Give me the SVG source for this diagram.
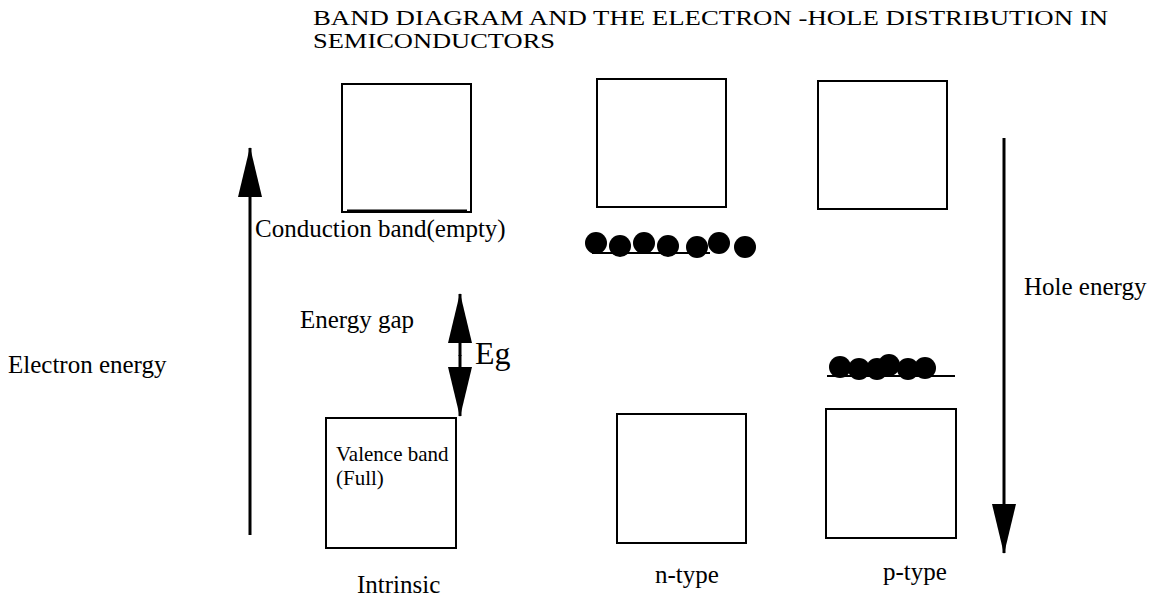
<svg xmlns="http://www.w3.org/2000/svg" width="1151" height="597" viewBox="0 0 1151 597">
<defs>
<style>
.t{font-family:"Liberation Serif","Times New Roman",serif;fill:#000}
.box{fill:#fff;stroke:#000;stroke-width:2}
.ln{stroke:#000;stroke-width:3;fill:none}
.dot{fill:#000}
</style>
<marker id="ah" viewBox="0 0 50 24" refX="49" refY="12" markerWidth="50" markerHeight="24" markerUnits="userSpaceOnUse" orient="auto">
<path d="M0,0 L50,12 L0,24 Z" fill="#000"/>
</marker>
</defs>
<rect width="1151" height="597" fill="#fff"/>
<g id="title">
<text class="t" x="313" y="25" font-size="21" textLength="795" lengthAdjust="spacingAndGlyphs">BAND DIAGRAM AND THE ELECTRON -HOLE DISTRIBUTION IN</text>
<text class="t" x="313" y="48" font-size="21" textLength="242" lengthAdjust="spacingAndGlyphs">SEMICONDUCTORS</text>
</g>
<g id="intrinsic-cb">
<rect class="box" x="342" y="84" width="129" height="128"/>
<line x1="347" y1="211" x2="467" y2="211" stroke="#000" stroke-width="3"/>
<text class="t" x="255" y="237" font-size="25">Conduction band(empty)</text>
</g>
<g id="intrinsic-vb">
<rect class="box" x="326" y="418" width="130" height="130"/>
<text class="t" x="336" y="461" font-size="21">Valence band</text>
<text class="t" x="336" y="485" font-size="21">(Full)</text>
</g>
<g id="ntype-cb">
<rect class="box" x="597" y="79" width="129" height="128"/>
</g>
<g id="ntype-electrons">
<line x1="592" y1="253" x2="710" y2="253" stroke="#000" stroke-width="2"/>
<circle class="dot" cx="596" cy="243" r="11"/>
<circle class="dot" cx="620" cy="246" r="11"/>
<circle class="dot" cx="644" cy="243" r="11"/>
<circle class="dot" cx="668" cy="246" r="11"/>
<circle class="dot" cx="697" cy="247" r="11"/>
<circle class="dot" cx="719" cy="243" r="11"/>
<circle class="dot" cx="745" cy="247" r="11"/>
</g>
<g id="ntype-vb">
<rect class="box" x="617" y="414" width="129" height="129"/>
</g>
<g id="ptype-cb">
<rect class="box" x="818" y="81" width="129" height="128"/>
</g>
<g id="ptype-holes">
<line x1="827" y1="376" x2="955" y2="376" stroke="#000" stroke-width="2"/>
<circle class="dot" cx="840" cy="367" r="11"/>
<circle class="dot" cx="859" cy="369" r="11"/>
<circle class="dot" cx="877" cy="369" r="11"/>
<circle class="dot" cx="889" cy="365" r="11"/>
<circle class="dot" cx="908" cy="369" r="11"/>
<circle class="dot" cx="925" cy="368" r="11"/>
</g>
<g id="ptype-vb">
<rect class="box" x="826" y="409" width="130" height="129"/>
</g>
<g id="labels">
<text class="t" x="300" y="328" font-size="25">Energy gap</text>
<text class="t" x="475" y="364" font-size="32">Eg</text>
<text class="t" x="8" y="373" font-size="25">Electron energy</text>
<text class="t" x="1024" y="295" font-size="25">Hole energy</text>
<text class="t" x="357" y="593" font-size="25">Intrinsic</text>
<text class="t" x="655" y="583" font-size="25">n-type</text>
<text class="t" x="883" y="580" font-size="25">p-type</text>
</g>
<g id="connectors">
<line class="ln" x1="250" y1="535" x2="250" y2="148" marker-end="url(#ah)"/>
<line class="ln" x1="1004" y1="138" x2="1004" y2="553" marker-end="url(#ah)"/>
<line class="ln" x1="460" y1="356" x2="460" y2="294" marker-end="url(#ah)"/>
<line class="ln" x1="460" y1="355" x2="460" y2="416" marker-end="url(#ah)"/>
</g>
</svg>
